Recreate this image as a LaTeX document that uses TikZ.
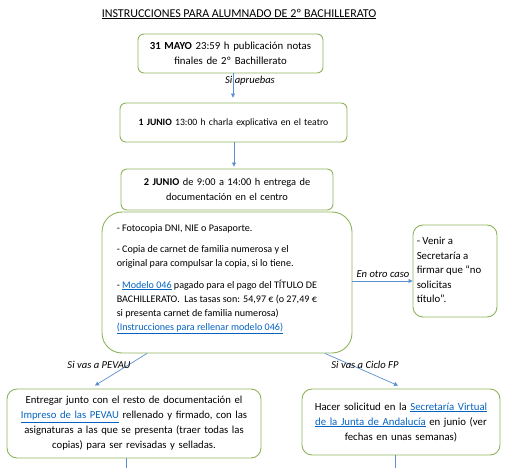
\documentclass[tikz,border=0pt]{standalone}
\usepackage{fontspec}
\setmainfont{Carlito}
\usetikzlibrary{calc,arrows.meta}
\definecolor{boxgreen}{HTML}{8DB35A}
\definecolor{arrblue}{HTML}{5B8FCF}
\definecolor{linkblue}{HTML}{0563C1}
\newcommand{\lnk}[1]{\textcolor{linkblue}{\underline{#1}}}
\newcommand{\fs}[2]{\fontsize{#1}{#2}\selectfont}
\tikzset{
  box/.style={draw=boxgreen, line width=0.9pt, rounded corners=6pt, align=center, inner xsep=3pt, inner ysep=2pt},
  arr/.style={draw=arrblue, line width=0.7pt, -{Triangle[length=4pt,width=4pt]}},
  plain/.style={draw=arrblue, line width=0.7pt},
  lbl/.style={font=\fs{10.6}{13}\itshape, inner sep=1pt},
  txt/.style={align=left, inner sep=0pt}
}
\begin{document}
\begin{tikzpicture}[x=1pt,y=-1pt]
\useasboundingbox (0,0) rectangle (509,468);
\node[inner sep=0pt, font=\fs{12}{14}] (title) at (239,14) {\underline{INSTRUCCIONES PARA ALUMNADO DE 2º BACHILLERATO}};
\node[box, font=\fs{10.8}{15}, text width=179pt, minimum height=39pt] (b1) at (230.5,53.5) {\textbf{31 MAYO} 23:59 h publicación notas\\finales de 2º Bachillerato};
\node[box, font=\fs{9.7}{14}, text width=221pt, minimum height=39pt] (b2) at (233.5,122.5) {\textbf{1 JUNIO} 13:00 h charla explicativa en el teatro};
\node[box, font=\fs{10.4}{14.5}, text width=206pt, minimum height=41pt] (b3) at (227,189.5) {\textbf{2 JUNIO} de 9:00 a 14:00 h entrega de\\documentación en el centro};
\node[box, rounded corners=20pt, minimum width=250pt, minimum height=141pt] (b4) at (227,282.5) {};
\node[txt, font=\fs{10.1}{14}, anchor=west] (b4t) at ($(b4.west)+(15,-3.5)$)
 {- Fotocopia DNI, NIE o Pasaporte.\\[7.5pt]
  - Copia de carnet de familia numerosa y el\\
  original para compulsar la copia, si lo tiene.\\[7.5pt]
  - \lnk{Modelo 046} pagado para el pago del TÍTULO DE\\
  BACHILLERATO.\ \ Las tasas son: 54,97 € (o 27,49 €\\
  si presenta carnet de familia numerosa)\\
  \lnk{(Instrucciones para rellenar modelo 046)}};
\node[box, rounded corners=10pt, minimum width=84pt, minimum height=92pt] (b5) at (455,271) {};
\node[txt, font=\fs{10.8}{14.5}, anchor=west] (b5t) at ($(b5.west)+(4,-1)$)
 {- Venir a\\Secretaría a\\firmar que “no\\solicitas\\título”.};
\node[box, rounded corners=10pt, font=\fs{10.7}{15}, text width=248pt, minimum height=69pt] (b6) at (134,423.5)
 {Entregar junto con el resto de documentación el\\
  \lnk{Impreso de las PEVAU} rellenado y firmado, con las\\
  asignaturas a las que se presenta (traer todas las\\
  copias) para ser revisadas y selladas.};
\node[box, rounded corners=10pt, font=\fs{10.8}{15}, text width=192pt, minimum height=66pt] (b7) at (401,422)
 {Hacer solicitud en la \lnk{Secretaría Virtual}\\
  \lnk{de la Junta de Andalucía} en junio (ver\\
  fechas en unas semanas)};
\coordinate (e6) at (126,468);
\coordinate (e7) at (395,468);
\draw[arr, shorten >=5pt] (b1.south -| 233,0) -- (b2.north -| 233,0);
\node[lbl] (l1) at (250,81) {Si apruebas};
\draw[arr, shorten >=2pt] (b2.south -| 234,0) -- (b3.north -| 234,0);
\draw[arr] ($(b4.east)+(0,-1.5)$) -- ($(b4.east -| b5.west)+(0,-1.5)$);
\node[lbl] (l2) at (383,274) {En otro caso};
\draw[arr] ($(b4.south)+(-80,0)$) -- ($(b6.north)+(-39,-3)$);
\node[lbl] (l3) at (99,365) {Si vas a PEVAU};
\draw[arr] ($(b4.south)+(98,0)$) -- ($(b7.north)+(-3,-3)$);
\node[lbl] (l4) at (365,365) {Si vas a Ciclo FP};
\draw[plain] (b6.south -| e6) -- (e6);
\draw[plain] (b7.south -| e7) -- (e7);
\end{tikzpicture}
\end{document}
